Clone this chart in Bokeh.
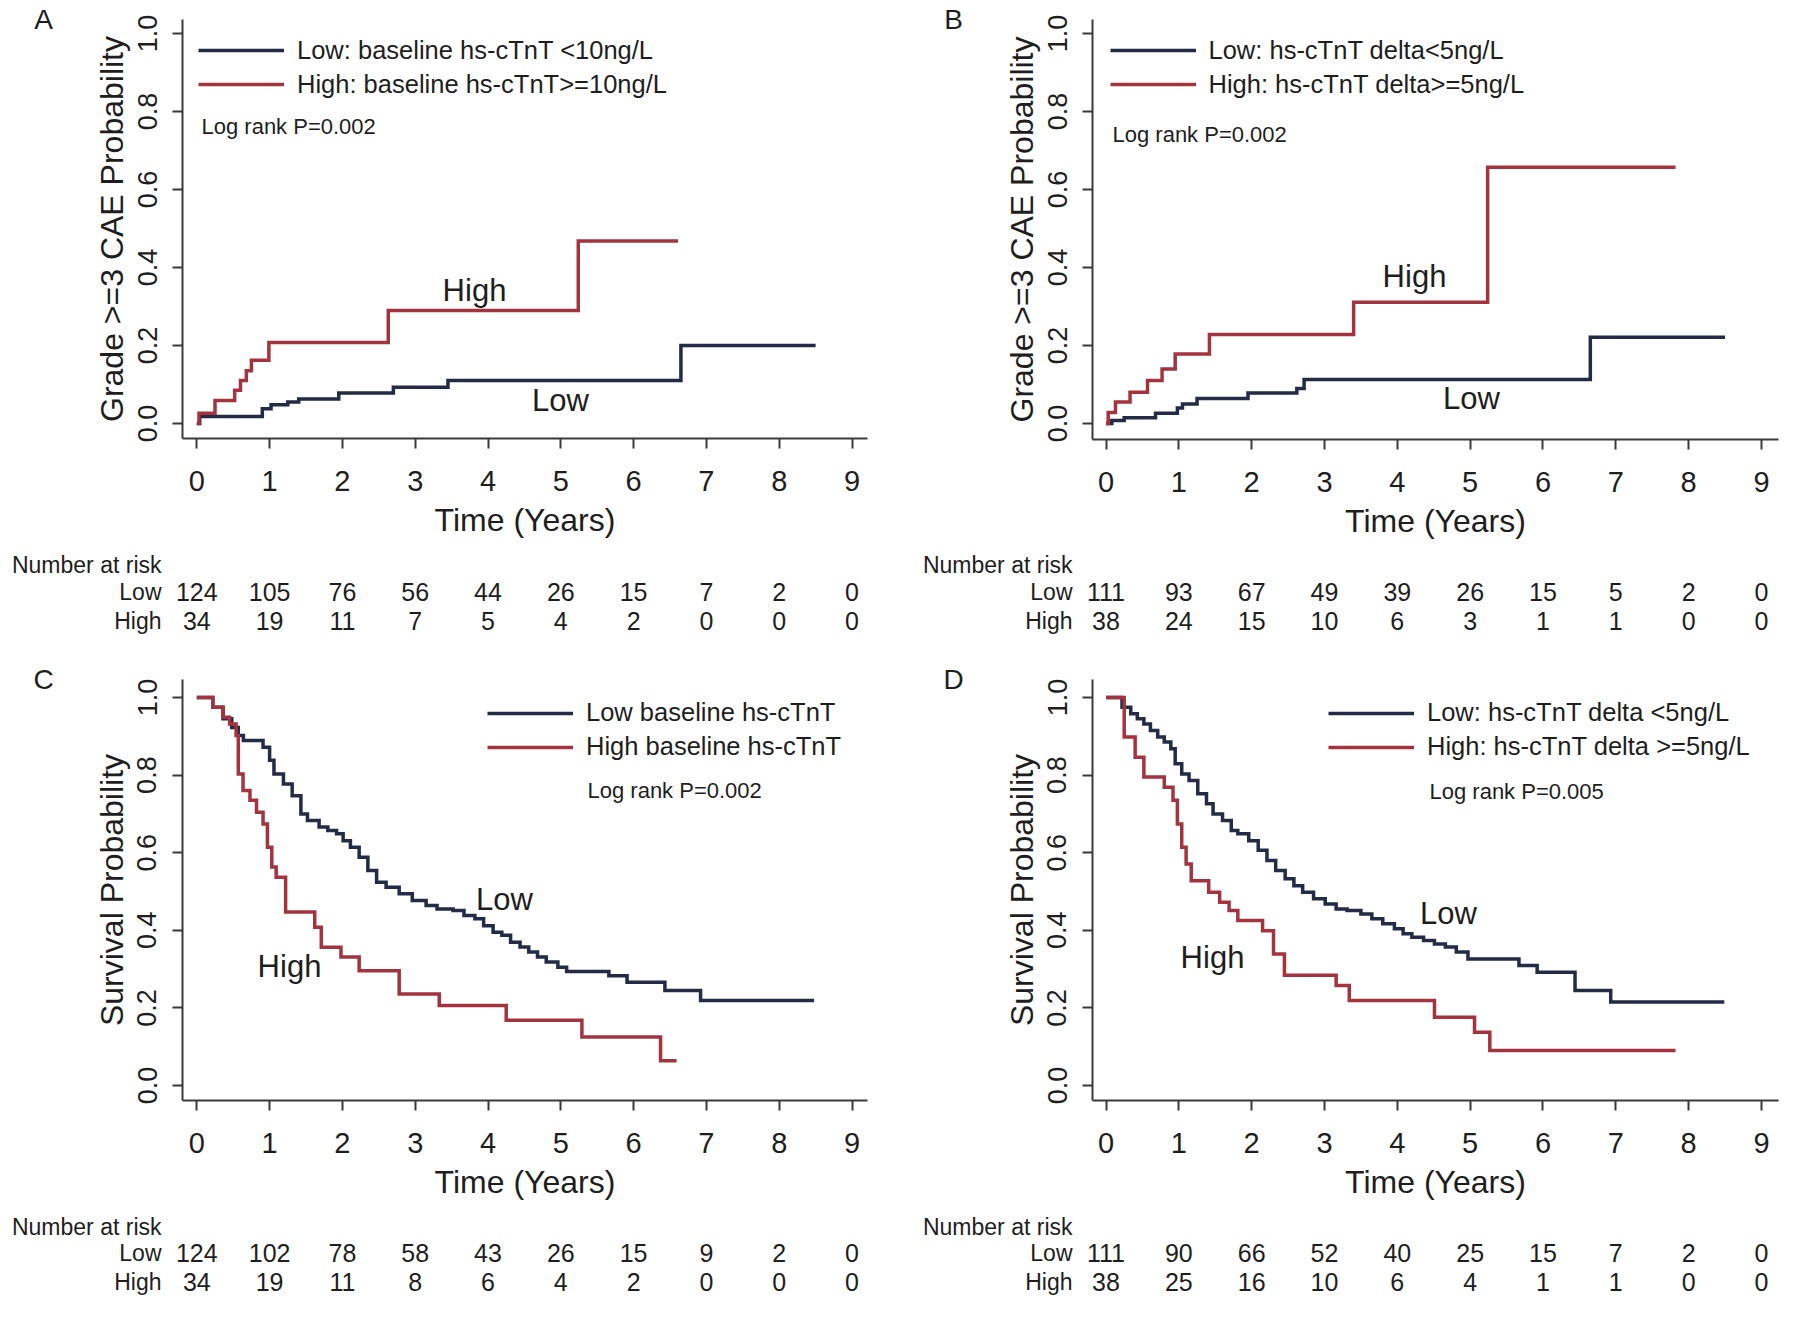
from bokeh.plotting import figure
from bokeh.models import (Range1d, FixedTicker, Label, Legend, LegendItem,
                          ColumnDataSource, PrintfTickFormatter)
from bokeh.layouts import column, row
from bokeh.embed import file_html
from bokeh.resources import INLINE

# ---------------------------------------------------------------- data
years = [0, 1, 2, 3, 4, 5, 6, 7, 8, 9]
y_ticks = [0.0, 0.2, 0.4, 0.6, 0.8, 1.0]
row_names = ["Number at risk", "Low", "High"]

# Panel A: cumulative incidence, baseline hs-cTnT
a_low_t = [0, 0.04, 0.9, 1.02, 1.25, 1.4, 1.95, 2.7, 3.45, 6.65, 8.5]
a_low_s = [0, 0.018, 0.038, 0.048, 0.055, 0.063, 0.078, 0.093, 0.11, 0.2, 0.2]
a_high_t = [0, 0.03, 0.25, 0.52, 0.6, 0.68, 0.75, 0.99, 2.63, 5.24, 6.61]
a_high_s = [0, 0.026, 0.059, 0.085, 0.11, 0.135, 0.162, 0.208, 0.29, 0.468, 0.468]
a_risk_low = [124, 105, 76, 56, 44, 26, 15, 7, 2, 0]
a_risk_high = [34, 19, 11, 7, 5, 4, 2, 0, 0, 0]

# Panel B: cumulative incidence, hs-cTnT delta
b_low_t = [0, 0.08, 0.25, 0.68, 0.98, 1.05, 1.25, 1.95, 2.62, 2.72, 6.65, 8.5]
b_low_s = [0, 0.008, 0.015, 0.026, 0.04, 0.05, 0.064, 0.078, 0.09, 0.113, 0.221, 0.221]
b_high_t = [0, 0.03, 0.13, 0.33, 0.57, 0.77, 0.95, 1.42, 3.4, 5.24, 7.82]
b_high_s = [0, 0.028, 0.055, 0.08, 0.11, 0.14, 0.178, 0.228, 0.311, 0.657, 0.657]
b_risk_low = [111, 93, 67, 49, 39, 26, 15, 5, 2, 0]
b_risk_high = [38, 24, 15, 10, 6, 3, 1, 1, 0, 0]

# Panel C: survival, baseline hs-cTnT
c_low_t = [0, 0.22, 0.36, 0.48, 0.57, 0.64, 0.91, 1.0, 1.06, 1.19, 1.31, 1.43, 1.52,
           1.68, 1.80, 1.92, 2.01, 2.11, 2.23, 2.35, 2.47, 2.60, 2.78, 2.96, 3.15,
           3.30, 3.52, 3.67, 3.82, 3.94, 4.07, 4.19, 4.31, 4.44, 4.56, 4.68, 4.80,
           4.96, 5.08, 5.66, 5.91, 6.43, 6.92, 8.48]
c_low_s = [1.0, 0.975, 0.945, 0.923, 0.902, 0.889, 0.872, 0.838, 0.803, 0.777, 0.747,
           0.700, 0.683, 0.666, 0.657, 0.649, 0.631, 0.614, 0.588, 0.554, 0.524, 0.511,
           0.494, 0.477, 0.464, 0.455, 0.451, 0.438, 0.430, 0.412, 0.395, 0.387, 0.369,
           0.357, 0.344, 0.331, 0.318, 0.305, 0.294, 0.283, 0.266, 0.245, 0.219, 0.219]
c_high_t = [0, 0.22, 0.36, 0.45, 0.54, 0.57, 0.635, 0.73, 0.82, 0.91, 0.97, 1.03, 1.09,
            1.22, 1.62, 1.71, 1.98, 2.23, 2.78, 3.33, 4.25, 5.29, 6.37, 6.59]
c_high_s = [1.0, 0.975, 0.949, 0.932, 0.902, 0.803, 0.760, 0.735, 0.704, 0.674, 0.614,
            0.563, 0.537, 0.447, 0.408, 0.356, 0.331, 0.296, 0.236, 0.206, 0.168, 0.125,
            0.064, 0.064]
c_risk_low = [124, 102, 78, 58, 43, 26, 15, 9, 2, 0]
c_risk_high = [34, 19, 11, 8, 6, 4, 2, 0, 0, 0]

# Panel D: survival, hs-cTnT delta
d_low_t = [0, 0.22, 0.34, 0.43, 0.52, 0.61, 0.71, 0.80, 0.89, 0.95, 1.04, 1.14, 1.26,
           1.38, 1.47, 1.60, 1.72, 1.81, 1.96, 2.09, 2.21, 2.33, 2.46, 2.58, 2.70, 2.85,
           3.01, 3.16, 3.31, 3.50, 3.65, 3.80, 3.96, 4.08, 4.20, 4.36, 4.51, 4.66, 4.81,
           4.97, 5.67, 5.92, 6.44, 6.93, 8.49]
d_low_s = [1.0, 0.975, 0.958, 0.945, 0.932, 0.915, 0.898, 0.885, 0.868, 0.829, 0.803,
           0.786, 0.752, 0.726, 0.700, 0.683, 0.657, 0.649, 0.631, 0.606, 0.580, 0.554,
           0.533, 0.515, 0.498, 0.481, 0.468, 0.455, 0.451, 0.442, 0.430, 0.417, 0.404,
           0.391, 0.382, 0.374, 0.365, 0.357, 0.344, 0.326, 0.309, 0.292, 0.245, 0.215,
           0.215]
d_high_t = [0, 0.25, 0.40, 0.52, 0.80, 0.92, 0.98, 1.04, 1.10, 1.17, 1.41, 1.56, 1.69,
            1.81, 2.15, 2.30, 2.45, 3.16, 3.34, 4.51, 5.06, 5.27, 7.82]
d_high_s = [1.0, 0.898, 0.846, 0.795, 0.769, 0.735, 0.674, 0.614, 0.571, 0.528, 0.498,
            0.472, 0.451, 0.425, 0.399, 0.339, 0.284, 0.258, 0.219, 0.176, 0.137, 0.090,
            0.090]
d_risk_low = [111, 90, 66, 52, 40, 25, 15, 7, 2, 0]
d_risk_high = [38, 25, 16, 10, 6, 4, 1, 1, 0, 0]

# ---------------------------------------------------------------- style
FONT = "Liberation Sans"
NAVY = "#232b47"
RED = "#a3343f"
INK = "#1e1e1e"
AXIS = "#3a3a3a"
LW = 3.5

# page-pixel geometry of each panel (page origin at top-left, no margin)
GA = dict(ox=0, oy=0, w=900, hp=550, ht=110, fl=182.5, fr=867, ft=19, fb=437.7,
          x0=196.3, sx=72.8, y0=423, y1=33, letter=(43, 19), logrank=(201, 126),
          high=(474, 290), low=(560, 400), leg=(198, 50), rows=(564, 591, 620),
          rowlab=161)
GB = dict(ox=900, oy=0, w=900, hp=550, ht=110, fl=1092, fr=1778, ft=19, fb=439,
          x0=1105.5, sx=72.83, y0=423, y1=33, letter=(953, 19), logrank=(1112, 134),
          high=(1414, 276), low=(1471, 398), leg=(1109.5, 50), rows=(564, 591, 620),
          rowlab=1072)
GC = dict(ox=0, oy=660, w=900, hp=550, ht=110, fl=182.5, fr=867, ft=679, fb=1100,
          x0=196.3, sx=72.8, y0=1085, y1=697, letter=(43, 679), logrank=(587, 790),
          high=(289, 966), low=(504, 899), leg=(487, 712.6), rows=(1226, 1252, 1281),
          rowlab=161)
GD = dict(ox=900, oy=660, w=900, hp=550, ht=110, fl=1092, fr=1778, ft=679, fb=1100,
          x0=1105.5, sx=72.83, y0=1085, y1=697, letter=(953, 679), logrank=(1429, 791),
          high=(1212, 957), low=(1448, 912.5), leg=(1328, 712.6), rows=(1226, 1252, 1281),
          rowlab=1072)

PANELS = [
    dict(letter="A", ylabel="Grade >=3 CAE Probability", geom=GA,
         low=(a_low_t, a_low_s), high=(a_high_t, a_high_s), risk=(a_risk_low, a_risk_high),
         leg=("Low: baseline hs-cTnT <10ng/L", "High: baseline hs-cTnT>=10ng/L"),
         logrank="Log rank P=0.002"),
    dict(letter="B", ylabel="Grade >=3 CAE Probability", geom=GB,
         low=(b_low_t, b_low_s), high=(b_high_t, b_high_s), risk=(b_risk_low, b_risk_high),
         leg=("Low: hs-cTnT delta<5ng/L", "High: hs-cTnT delta>=5ng/L"),
         logrank="Log rank P=0.002"),
    dict(letter="C", ylabel="Survival Probability", geom=GC,
         low=(c_low_t, c_low_s), high=(c_high_t, c_high_s), risk=(c_risk_low, c_risk_high),
         leg=("Low baseline hs-cTnT", "High baseline hs-cTnT"),
         logrank="Log rank P=0.002"),
    dict(letter="D", ylabel="Survival Probability", geom=GD,
         low=(d_low_t, d_low_s), high=(d_high_t, d_high_s), risk=(d_risk_low, d_risk_high),
         leg=("Low: hs-cTnT delta <5ng/L", "High: hs-cTnT delta >=5ng/L"),
         logrank="Log rank P=0.005"),
]


def no_align(fig):
    if "frame_align" in fig.properties():
        fig.frame_align = False


def style_axis(ax):
    ax.axis_line_width = 2
    ax.axis_line_color = AXIS
    ax.major_tick_line_width = 2
    ax.major_tick_line_color = AXIS
    ax.major_tick_out = 10
    ax.major_tick_in = 0
    ax.minor_tick_out = 0
    ax.minor_tick_in = 0
    ax.major_label_text_font = FONT
    ax.major_label_text_color = INK
    ax.axis_label_text_font = FONT
    ax.axis_label_text_font_style = "normal"
    ax.axis_label_text_color = INK


def make_panel(P):
    g = P["geom"]
    ox, oy, W, Hp, Ht = g["ox"], g["oy"], g["w"], g["hp"], g["ht"]
    bl = int(round(g["fl"] - ox))
    br = int(round(ox + W - g["fr"]))
    bt = int(round(g["ft"] - oy))
    fb_loc = int(round(g["fb"] - oy))
    bb = Hp - fb_loc
    fl, fr, ft, fbp = ox + bl, ox + W - br, oy + bt, oy + fb_loc
    sy = g["y0"] - g["y1"]

    def dx(px):
        return (px - g["x0"]) / g["sx"]

    def dy(py):
        return (g["y0"] - py) / sy

    p = figure(width=W, height=Hp, output_backend="svg", toolbar_location=None,
               x_range=Range1d(dx(fl), dx(fr)), y_range=Range1d(dy(fbp), dy(ft)),
               min_border_left=bl, min_border_right=br, min_border_top=bt,
               min_border_bottom=bb)
    no_align(p)
    p.grid.visible = False
    p.outline_line_color = None
    p.background_fill_color = "white"
    p.border_fill_color = "white"

    xa = p.xaxis[0]
    style_axis(xa)
    xa.ticker = FixedTicker(ticks=years)
    xa.major_label_text_font_size = "29px"
    xa.major_label_standoff = 22
    xa.axis_label = "Time (Years)"
    xa.axis_label_text_font_size = "32px"
    xa.axis_label_standoff = 8

    ya = p.yaxis[0]
    style_axis(ya)
    ya.ticker = FixedTicker(ticks=y_ticks)
    ya.formatter = PrintfTickFormatter(format="%.1f")
    ya.major_label_orientation = "vertical"
    ya.major_label_text_font_size = "27px"
    ya.major_label_standoff = 16
    ya.axis_label = P["ylabel"]
    ya.axis_label_text_font_size = "32px"
    ya.axis_label_standoff = 5

    lt, ls = P["low"]
    ht_, hs = P["high"]
    r_low = p.step(x=lt, y=ls, mode="after", line_color=NAVY, line_width=LW,
                   line_join="miter")
    r_high = p.step(x=ht_, y=hs, mode="after", line_color=RED, line_width=LW,
                    line_join="miter")

    lx, ly = g["leg"]
    item_h = 30
    leg = Legend(items=[LegendItem(label=P["leg"][0], renderers=[r_low]),
                        LegendItem(label=P["leg"][1], renderers=[r_high])],
                 location=(lx - fl, fbp - (ly + item_h / 2 + 34)),
                 orientation="vertical", label_text_font=FONT,
                 label_text_font_size="25.5px", label_text_color=INK,
                 glyph_width=86, glyph_height=item_h, label_height=item_h,
                 label_standoff=13, spacing=4, padding=0, margin=0,
                 border_line_color=None, background_fill_alpha=0)
    p.add_layout(leg)

    def lab(text, xy, size, align="center", place="center"):
        p.add_layout(Label(x=dx(xy[0]), y=dy(xy[1]), text=text, text_font=FONT,
                           text_font_size=size, text_color=INK, text_align=align,
                           text_baseline="middle"), place)

    lab(P["logrank"], g["logrank"], "22px", "left")
    lab("High", g["high"], "31px")
    lab("Low", g["low"], "31px")
    lab(P["letter"], g["letter"], "28px", "center", "left")

    # number-at-risk table: same horizontal scale, wider frame, row names on y axis
    top = oy + Hp
    rows_loc = [int(round(v - top)) for v in g["rows"]]
    tbl = int(round(g["rowlab"] + 5 - ox))
    tbr = 4
    t = figure(width=W, height=Ht, output_backend="svg", toolbar_location=None,
               x_range=Range1d(dx(ox + tbl), dx(ox + W - tbr)),
               y_range=Range1d(Ht, 0), x_axis_type=None,
               min_border_left=tbl, min_border_right=tbr, min_border_top=0,
               min_border_bottom=0)
    no_align(t)
    t.grid.visible = False
    t.outline_line_color = None
    ta = t.yaxis[0]
    ta.ticker = FixedTicker(ticks=rows_loc)
    ta.major_label_overrides = {k: v for k, v in zip(rows_loc, row_names)}
    ta.axis_line_color = None
    ta.major_tick_line_color = None
    ta.minor_tick_line_color = None
    ta.major_tick_out = 0
    ta.major_tick_in = 0
    ta.minor_tick_out = 0
    ta.minor_tick_in = 0
    ta.major_label_standoff = 5
    ta.major_label_text_font = FONT
    ta.major_label_text_font_size = "23px"
    ta.major_label_text_color = INK

    rl, rh = P["risk"]
    src = ColumnDataSource(dict(x=years, low=[str(v) for v in rl],
                                high=[str(v) for v in rh]))
    common = dict(text_font={"value": FONT}, text_color=INK, text_baseline="middle",
                  text_align="center", text_font_size="25px")
    t.text(x="x", y=rows_loc[1], text="low", source=src, **common)
    t.text(x="x", y=rows_loc[2], text="high", source=src, **common)
    return column(p, t)


cols = [make_panel(P) for P in PANELS]
layout = column(row(cols[0], cols[1]), row(cols[2], cols[3]))

open("out.html", "w").write(file_html(layout, INLINE))
